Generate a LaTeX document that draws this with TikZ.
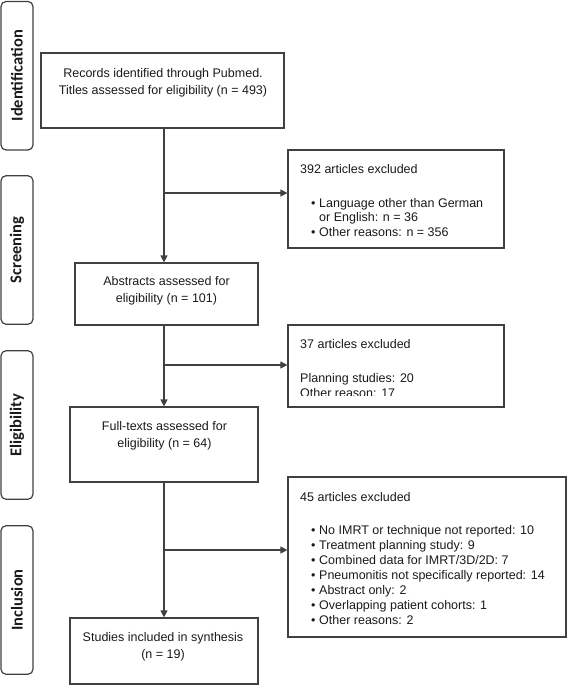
\documentclass[tikz,border=0pt]{standalone}
\usepackage{fontspec}
\setmainfont{Liberation Sans}
\newfontfamily\labelfont{Carlito}
\usetikzlibrary{arrows.meta}
\definecolor{lncol}{HTML}{404040}
\definecolor{txcol}{HTML}{1A1A1A}
\newcommand{\bul}{\makebox[8pt][l]{\textbullet}}
\newcommand{\ind}{\hspace*{8pt}}
\begin{document}
\begin{tikzpicture}[x=1pt,y=-1pt,
  box/.style={draw=lncol, line width=1.2pt, rectangle, inner sep=0pt},
  side/.style={draw=lncol, line width=1.2pt, rounded corners=5pt, rotate=90,
    minimum width=148.5pt, minimum height=32pt, inner sep=0pt,
    font=\labelfont\bfseries\fontsize{16.5}{18}\selectfont, text=txcol},
  mtext/.style={align=center, font=\fontsize{12.5}{16.75}\selectfont, text=txcol, inner sep=0pt, anchor=base},
  etext/.style={align=left, font=\fontsize{12.5}{14.5}\selectfont, text=txcol, inner sep=0pt, anchor=base west},
  arr/.style={draw=lncol, line width=1.2pt, -{Triangle[length=7pt,width=7pt]}}]
\useasboundingbox (0,0) rectangle (567,685);

% side labels
\node[side] (sid) at (17,75.75) {Identification};
\node[side] (ssc) at (17,250) {Screening};
\node[side] (sel) at (17,425) {Eligibility};
\node[side] (sin) at (17,600) {Inclusion};

% main boxes
\node[box, minimum width=243pt, minimum height=75pt] (b1) at (162.5,90.5) {};
\node[box, minimum width=183pt, minimum height=62pt] (b2) at (166.5,294) {};
\node[box, minimum width=188pt, minimum height=75pt] (b3) at (164,444.5) {};
\node[box, minimum width=188pt, minimum height=66pt] (b4) at (164,651) {};

\node[mtext] (t1) at (163,94) {Records identified through Pubmed.\\Titles assessed for eligibility (n = 493)};
\node[mtext] (t2) at (166.5,302.5) {Abstracts assessed for\\eligibility (n = 101)};
\node[mtext] (t3) at (164.5,447.5) {Full-texts assessed for\\eligibility (n = 64)};
\node[mtext] (t4) at (163,658) {Studies included in synthesis\\(n = 19)};

% exclusion boxes
\node[box, minimum width=216pt, minimum height=98pt] (e1) at (396,199) {};
\node[box, minimum width=216pt, minimum height=82pt] (e2) at (396,366) {};
\node[box, minimum width=278pt, minimum height=160pt] (e3) at (427,557) {};

\node[etext] (x1) at (300,173) {392 articles excluded};
\node[etext] (x1b) at (311,236) {\bul Language other than German\\\ind or English: n = 36\\\bul Other reasons: n = 356};

\node[etext] (x2) at (300,348) {37 articles excluded};
\begin{scope}
\clip (290,360) rectangle (502,395.5);
\node[etext, font=\fontsize{12.5}{15.5}\selectfont] (x2b) at (300,397.5) {Planning studies: 20\\Other reason: 17};
\end{scope}

\node[etext] (x3) at (300,501) {45 articles excluded};
\node[etext, font=\fontsize{12.5}{15}\selectfont] (x3b) at (311,624) {\bul No IMRT or technique not reported: 10\\\bul Treatment planning study: 9\\\bul Combined data for IMRT/3D/2D: 7\\\bul Pneumonitis not specifically reported: 14\\\bul Abstract only: 2\\\bul Overlapping patient cohorts: 1\\\bul Other reasons: 2};

% connectors
\coordinate (spine) at (164,0);
\coordinate (j1) at (164,193);
\coordinate (j2) at (164,365);
\coordinate (j3) at (164,550);
\draw[arr] (b1.south -| spine) -- (b2.north -| spine);
\draw[arr] (b2.south -| spine) -- (b3.north -| spine);
\draw[arr] (b3.south -| spine) -- (b4.north -| spine);
\draw[arr] (j1) -- (j1 -| e1.west);
\draw[arr] (j2) -- (j2 -| e2.west);
\draw[arr] (j3) -- (j3 -| e3.west);
\end{tikzpicture}
\end{document}
